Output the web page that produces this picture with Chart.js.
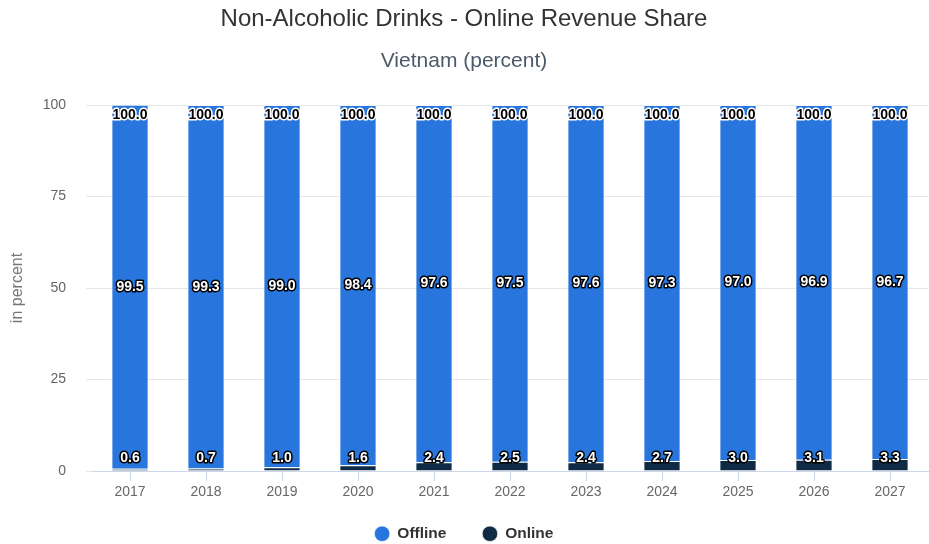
<!DOCTYPE html>
<html>
<head>
<meta charset="utf-8">
<script src="https://cdn.jsdelivr.net/npm/chart.js@4"></script>
<style>
  html, body { margin: 0; padding: 0; background: #fff; }
  #wrap { width: 929px; height: 544px; }
</style>
</head>
<body>
<div id="wrap"><canvas id="graf"></canvas></div>
<script>
// Data
var years = ["2017", "2018", "2019", "2020", "2021", "2022", "2023", "2024", "2025", "2026", "2027"];
var offlineData = [99.5, 99.3, 99.0, 98.4, 97.6, 97.5, 97.6, 97.3, 97.0, 96.9, 96.7];
var onlineData = [0.6, 0.7, 1.0, 1.6, 2.4, 2.5, 2.4, 2.7, 3.0, 3.1, 3.3];
var totalData = [100.0, 100.0, 100.0, 100.0, 100.0, 100.0, 100.0, 100.0, 100.0, 100.0, 100.0];
var yTicks = [0, 25, 50, 75, 100];

var fontName = "'Liberation Sans', Arial, Helvetica, sans-serif";

// Tegn værdier på søjlerne (hvid tekst med sort kant)
var labelPlugin = {
  id: "barLabels",
  afterInit: function (chart) {
    // legenden fylder kun den nederste stribe
    var lg = chart.legend;
    var fit0 = lg.fit;
    lg.fit = function () {
      fit0.call(this);
      this.height = 41;
    };
  },
  afterLayout: function (chart) {
    // ryk legendens top op, så punkterne ligger ved bunden
    var lg = chart.legend;
    lg.top -= 13;
  },
  afterDatasetsDraw: function (chart) {
    var ctx = chart.ctx;
    var yScale = chart.scales.y;
    var metaOnline = chart.getDatasetMeta(0);
    var metaOffline = chart.getDatasetMeta(1);
    ctx.save();
    ctx.font = "bold 14px " + fontName;
    ctx.textAlign = "center";
    ctx.textBaseline = "middle";
    ctx.lineJoin = "round";

    function label(text, x, y, fill, stroke) {
      ctx.lineWidth = 3;
      ctx.strokeStyle = stroke;
      ctx.strokeText(text, x, y);
      ctx.fillStyle = fill;
      ctx.fillText(text, x, y);
    }

    metaOffline.data.forEach(function (bar, i) {
      // midt i offline-segmentet
      var mid = (bar.y + bar.base) / 2;
      label(offlineData[i].toFixed(1), bar.x, mid, "#fff", "#000");
      // total øverst
      label(totalData[i].toFixed(1), bar.x, yScale.getPixelForValue(totalData[i]) + 10, "#000", "#fff");
    });
    metaOnline.data.forEach(function (bar, i) {
      var y = Math.min(bar.y, yScale.getPixelForValue(0) - 13);
      label(onlineData[i].toFixed(1), bar.x, y, "#fff", "#000");
    });
    ctx.restore();
  }
};

var ctx = document.getElementById("graf").getContext("2d");
var graf = new Chart(ctx, {
  type: "bar",
  data: {
    labels: years,
    datasets: [
      {
        label: "Online",
        data: onlineData,
        backgroundColor: "#0f2a44",
        borderColor: "rgba(255,255,255,0.7)",
        borderWidth: 1,
        categoryPercentage: 1,
        barPercentage: 0.49,
      },
      {
        label: "Offline",
        data: offlineData,
        backgroundColor: "#2876dd",
        borderColor: "rgba(255,255,255,0.7)",
        borderWidth: 1,
        categoryPercentage: 1,
        barPercentage: 0.49,
      },
    ],
  },
  plugins: [labelPlugin],
  options: {
    responsive: true,
    maintainAspectRatio: false,
    animation: false,
    layout: { padding: { left: 0, right: 1, top: 0, bottom: 0 } },
    plugins: {
      title: {
        display: true,
        text: "Non-Alcoholic Drinks - Online Revenue Share",
        color: "#333",
        font: { family: fontName, size: 24, weight: "normal" },
        padding: { top: 5, bottom: 15 },
      },
      subtitle: {
        display: true,
        text: "Vietnam (percent)",
        color: "#4d5a6b",
        font: { family: fontName, size: 21, weight: "normal" },
        padding: { top: 0, bottom: 31 },
      },
      legend: {
        position: "bottom",
        reverse: true,
        labels: {
          usePointStyle: true,
          pointStyle: "circle",
          boxWidth: 15,
          boxHeight: 11,
          padding: 36,
          color: "#333",
          font: { family: fontName, size: 15.5, weight: "bold" },
        },
      },
      tooltip: { enabled: false },
    },
    scales: {
      x: {
        stacked: true,
        afterFit: function (scale) {
          scale.height = 32;
        },
        grid: {
          offset: false,
          drawOnChartArea: false,
          drawTicks: true,
          tickLength: 10,
          color: "#ccd6eb",
        },
        border: { display: true, color: "#ccd6eb" },
        ticks: {
          color: "#666",
          padding: 3,
          font: { family: fontName, size: 14 },
        },
      },
      y: {
        stacked: true,
        min: 0,
        max: 100,
        afterBuildTicks: function (scale) {
          scale.ticks = yTicks.map(function (v) { return { value: v }; });
        },
        afterFit: function (scale) {
          scale.width = 92;
        },
        grid: {
          color: "#e6e6e6",
          drawTicks: true,
          tickLength: 6,
        },
        border: { display: false },
        ticks: {
          color: "#666",
          padding: 20,
          font: { family: fontName, size: 14 },
        },
        title: {
          display: true,
          text: "in percent",
          color: "#777",
          padding: { top: 8, bottom: 4 },
          font: { family: fontName, size: 16 },
        },
      },
    },
  },
});
</script>
</body>
</html>
